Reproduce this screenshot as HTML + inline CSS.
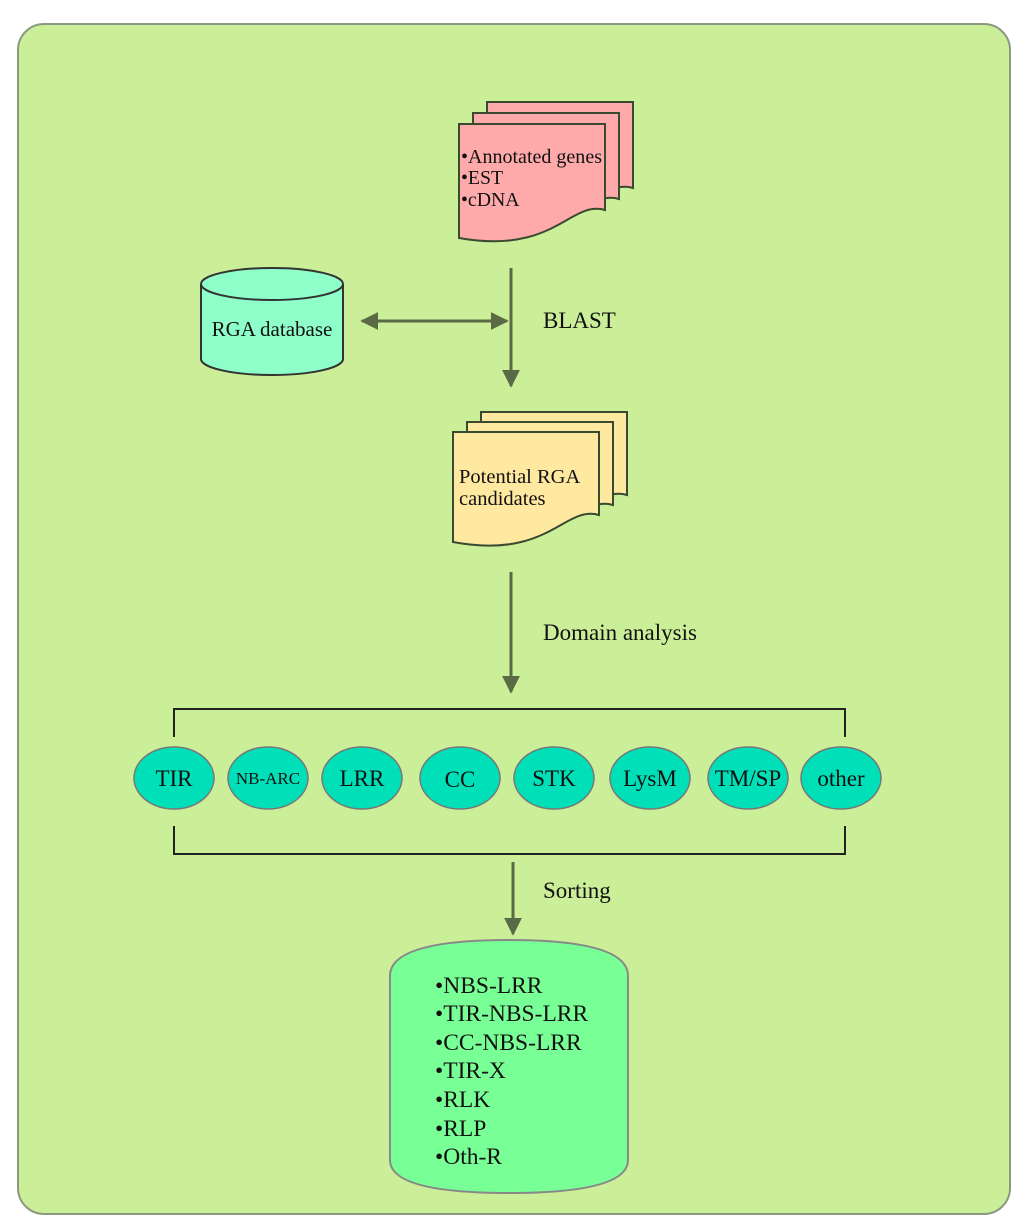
<!DOCTYPE html>
<html><head><meta charset="utf-8"><style>
html,body{margin:0;padding:0;background:#fff;}
svg{display:block;}
text{font-family:"Liberation Serif",serif;fill:#111;}
</style></head><body>
<svg width="1024" height="1228" viewBox="0 0 1024 1228">
<defs>
<marker id="ah" viewBox="0 0 10 10" refX="9" refY="5" markerWidth="6" markerHeight="6" orient="auto-start-reverse">
<path d="M0,0 L10,5 L0,10 z" fill="#5a6a45"/></marker>
</defs>
<rect x="18" y="24" width="992" height="1190" rx="26" fill="#cbee98" stroke="#8a9a80" stroke-width="2"/>

<g fill="#ffaaaa" stroke="#3a4a30" stroke-width="2">
<path d="M487,102 H633 V188 C598,178 583,233 487,216 Z"/>
<path d="M473,113 H619 V199 C584,189 569,244 473,227 Z"/>
<path d="M459,124 H605 V210 C570,200 555,255 459,238 Z"/>
</g>
<text x="461" y="163" font-size="19.8" textLength="141" lengthAdjust="spacingAndGlyphs">•Annotated genes</text>
<text x="461" y="184" font-size="19.8">•EST</text>
<text x="461" y="206" font-size="19.8">•cDNA</text>

<g stroke="#5a6a45" stroke-width="3" fill="none">
<line x1="511" y1="268" x2="511" y2="386" marker-end="url(#ah)"/>
<line x1="362" y1="321" x2="507" y2="321" marker-start="url(#ah)" marker-end="url(#ah)"/>
<line x1="511" y1="572" x2="511" y2="692" marker-end="url(#ah)"/>
<line x1="513" y1="862" x2="513" y2="934" marker-end="url(#ah)"/>
</g>
<text x="543" y="328" font-size="23">BLAST</text>
<text x="543" y="640" font-size="23">Domain analysis</text>
<text x="543" y="898" font-size="23">Sorting</text>

<g fill="#8fffc9" stroke="#333" stroke-width="2">
<path d="M201,284 V359 A71,16 0 0 0 343,359 V284"/>
<ellipse cx="272" cy="284" rx="71" ry="16"/>
</g>
<text x="272" y="336" font-size="21" text-anchor="middle">RGA database</text>

<g fill="#ffe8a0" stroke="#3a4a30" stroke-width="2">
<path d="M481,412 H627 V495 C592,485 577,540 481,522 Z"/>
<path d="M467,422 H613 V505 C578,495 563,550 467,532 Z"/>
<path d="M453,432 H599 V515 C564,505 549,560 453,542 Z"/>
</g>
<text x="459" y="483" font-size="20.5">Potential RGA</text>
<text x="459" y="505" font-size="20.5">candidates</text>

<g stroke="#222" stroke-width="2" fill="none">
<path d="M174,737 V709 H845 V737"/>
<path d="M174,826 V854 H845 V826"/>
</g>

<g fill="#00e0b8" stroke="#777" stroke-width="1.5">
<ellipse cx="174" cy="778" rx="40" ry="31"/>
<ellipse cx="268" cy="778" rx="40" ry="31"/>
<ellipse cx="362" cy="778" rx="40" ry="31"/>
<ellipse cx="460" cy="778" rx="40" ry="31"/>
<ellipse cx="554" cy="778" rx="40" ry="31"/>
<ellipse cx="650" cy="778" rx="40" ry="31"/>
<ellipse cx="748" cy="778" rx="40" ry="31"/>
<ellipse cx="841" cy="778" rx="40" ry="31"/>
</g>
<g font-size="23" text-anchor="middle">
<text x="174" y="786">TIR</text>
<text x="268" y="784" font-size="17">NB-ARC</text>
<text x="362" y="786">LRR</text>
<text x="460" y="787">CC</text>
<text x="554" y="786">STK</text>
<text x="650" y="786">LysM</text>
<text x="748" y="786">TM/SP</text>
<text x="841" y="786">other</text>
</g>

<path d="M390,976 Q390,940 509,940 Q628,940 628,976 V1160 Q628,1193 509,1193 Q390,1193 390,1160 Z" fill="#78ff95" stroke="#888" stroke-width="2"/>
<g font-size="23.5">
<text x="435" y="993">•NBS-LRR</text>
<text x="435" y="1021">•TIR-NBS-LRR</text>
<text x="435" y="1050">•CC-NBS-LRR</text>
<text x="435" y="1078">•TIR-X</text>
<text x="435" y="1107">•RLK</text>
<text x="435" y="1136">•RLP</text>
<text x="435" y="1164">•Oth-R</text>
</g>
</svg>
</body></html>
